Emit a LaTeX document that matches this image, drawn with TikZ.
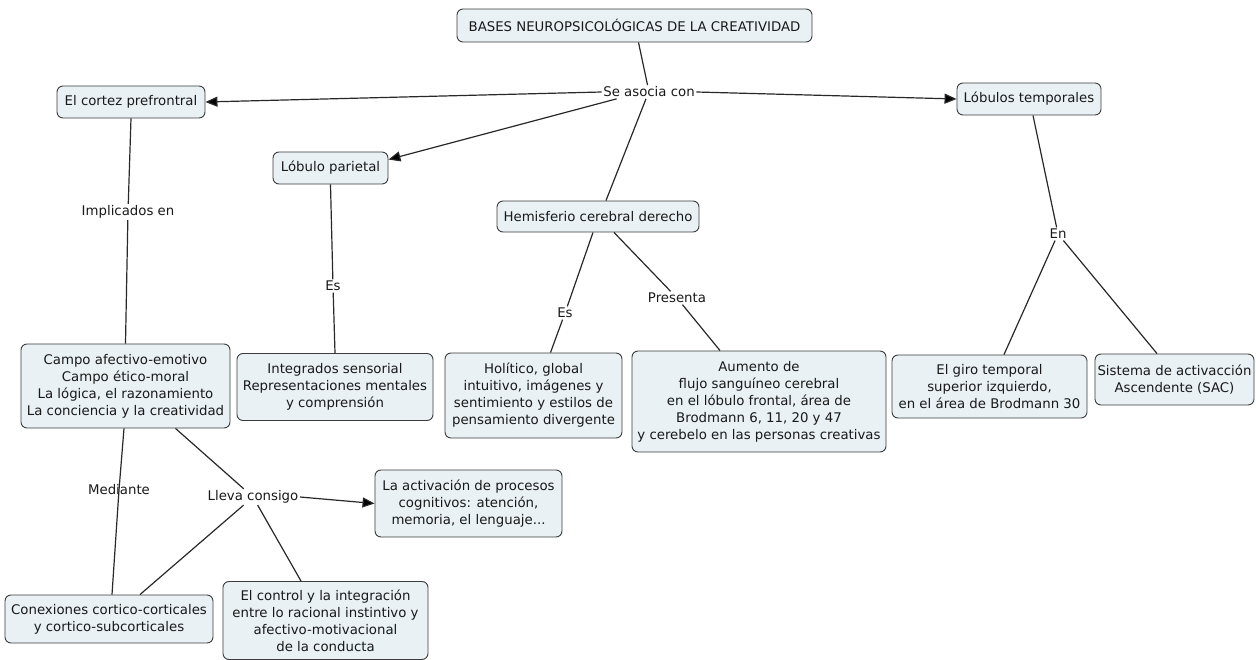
\documentclass[tikz,border=0pt]{standalone}
\usepackage{fontspec}
\setmainfont{DejaVu Sans}
\usetikzlibrary{arrows.meta}
\definecolor{boxfill}{RGB}{233,241,245}
\definecolor{boxborder}{RGB}{60,60,60}
\definecolor{linecol}{RGB}{40,40,40}
\begin{document}
\begin{tikzpicture}[x=1pt,y=-1pt,
  txt/.style={font=\fontsize{13.3}{17}\selectfont, text=black!90},
  cbox/.style={txt, draw=boxborder, fill=boxfill, rounded corners=6pt, line width=0.9pt, align=center, inner sep=2pt},
  lbl/.style={txt, inner sep=1.5pt},
  conn/.style={draw=linecol, line width=1.2pt},
  arr/.style={conn, -{Triangle[length=12pt,width=10pt,fill=black]}}]
\useasboundingbox (0,0) rectangle (1256,660);
% concept boxes
\node[cbox, minimum width=355pt, minimum height=33pt] (title) at (634.5,25.5) {BASES NEUROPSICOLÓGICAS DE LA CREATIVIDAD};
\node[cbox, minimum width=148pt, minimum height=32pt] (cortez) at (131,102) {El cortez prefrontral};
\node[cbox, minimum width=115pt, minimum height=32pt] (parietal) at (330.5,168) {Lóbulo parietal};
\node[cbox, minimum width=144pt, minimum height=32pt] (temporales) at (1029,99) {Lóbulos temporales};
\node[cbox, minimum width=202pt, minimum height=31pt] (hemis) at (598,216.5) {Hemisferio cerebral derecho};
\node[cbox, minimum width=177pt, minimum height=85pt] (holitico) at (533.5,395.5) {Holítico, global\\intuitivo, imágenes y\\sentimiento y estilos de\\pensamiento divergente};
\node[cbox, minimum width=254pt, minimum height=101pt] (aumento) at (759,401.5) {Aumento de\\flujo sanguíneo cerebral\\en el lóbulo frontal, área de\\Brodmann 6, 11, 20 y 47\\y cerebelo en las personas creativas};
\node[cbox, minimum width=196pt, minimum height=67pt] (integ) at (335,387) {Integrados sensorial\\Representaciones mentales\\y comprensión};
\node[cbox, minimum width=209pt, minimum height=84pt] (campo) at (125.5,386) {Campo afectivo-emotivo\\Campo ético-moral\\La lógica, el razonamiento\\La conciencia y la creatividad};
\node[cbox, minimum width=187pt, minimum height=67pt] (activ) at (468.5,503.5) {La activación de procesos\\cognitivos: atención,\\memoria, el lenguaje...};
\node[cbox, minimum width=208pt, minimum height=48pt] (conex) at (109,619) {Conexiones cortico-corticales\\y cortico-subcorticales};
\node[cbox, minimum width=205pt, minimum height=78pt] (control) at (325.5,620.5) {El control y la integración\\entre lo racional instintivo y\\afectivo-motivacional\\de la conducta};
\node[cbox, minimum width=195pt, minimum height=63pt] (giro) at (989.5,386.5) {El giro temporal\\superior izquierdo,\\en el área de Brodmann 30};
\node[cbox, minimum width=159pt, minimum height=51pt] (sistema) at (1174.5,379.5) {Sistema de activacción\\Ascendente (SAC)};
% linking phrases
\node[lbl] (se) at (649,92) {Se asocia con};
\node[lbl] (impl) at (128,212) {Implicados en};
\node[lbl] (es1) at (333,286) {Es};
\node[lbl] (es2) at (565,313) {Es};
\node[lbl] (presenta) at (677,298) {Presenta};
\node[lbl] (en) at (1058,234) {En};
\node[lbl] (lleva) at (253,497) {Lleva consigo};
\node[lbl] (med) at (119,490) {Mediante};
% connectors
\draw[conn] ([xshift=4pt]title.south) -- (se);
\draw[arr] (se.west) -- (cortez.east);
\draw[arr] ([xshift=15pt]se.south west) -- ([yshift=-8pt]parietal.north east);
\draw[arr] (se.east) -- (temporales.west);
\draw[conn] ([xshift=-3pt]se.south) -- ([xshift=8pt]hemis.north);
\draw[conn] (cortez.south) -- (impl);
\draw[conn] (impl) -- (campo.north);
\draw[conn] (parietal.south) -- (es1);
\draw[conn] (es1) -- (integ.north);
\draw[conn] ([xshift=-5pt]hemis.south) -- (es2);
\draw[conn] (es2) -- ([xshift=17pt]holitico.north);
\draw[conn] ([xshift=16pt]hemis.south) -- (presenta);
\draw[conn] (presenta) -- ([xshift=-39pt]aumento.north);
\draw[conn] ([xshift=4pt]temporales.south) -- (en);
\draw[conn] (en) -- ([xshift=14.5pt]giro.north);
\draw[conn] (en) -- ([xshift=-17.5pt]sistema.north);
\draw[conn] ([xshift=-1.5pt]campo.south) -- (med.center) -- ([xshift=3pt]conex.north);
\draw[conn] ([xshift=50pt]campo.south) -- (lleva);
\draw[arr] (lleva.east) -- (activ.west);
\draw[conn] (lleva) -- ([xshift=31pt]conex.north);
\draw[conn] (lleva) -- ([xshift=-24.5pt]control.north);
\end{tikzpicture}
\end{document}
